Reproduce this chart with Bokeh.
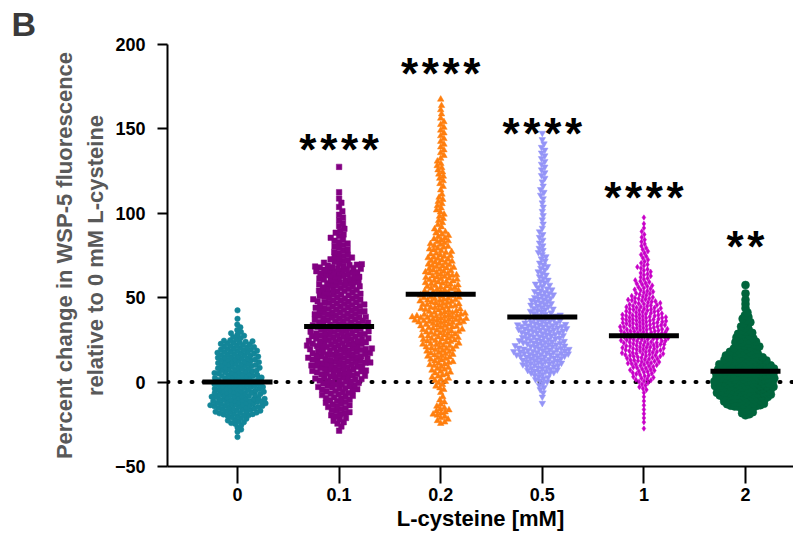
import numpy as np
from bokeh.plotting import figure
from bokeh.models import FixedTicker, Span, Label, ColumnDataSource, Title
from bokeh.embed import file_html
from bokeh.resources import INLINE

# ---------------- data ----------------
groups = ["0", "0.1", "0.2", "0.5", "1", "2"]
bin_width = 5  # % units per histogram bin
# lower edge of the first bin for each group
bin_start = [-35, -30, -25, -15, -30, -20]
# number of cells per 5-unit bin, from the lowest bin upward
counts_0 = [1, 4, 10, 22, 28, 25, 25, 23, 21, 21, 20, 16, 7, 3, 1, 1]
counts_01 = [2, 6, 8, 10, 12, 15, 18, 20, 23, 23, 23, 22, 20, 20, 19, 18,
             16, 16, 16, 18, 10, 6, 6, 5, 3, 3, 2, 2, 1, 0, 0, 1]
counts_02 = [6, 8, 4, 2, 5, 8, 9, 11, 13, 16, 17, 18, 26, 18, 18, 16, 15,
             15, 13, 12, 10, 9, 7, 4, 4, 4, 4, 2, 3, 4, 4, 3, 3, 3, 3, 3, 2, 2, 1]
counts_05 = [1, 2, 4, 8, 16, 20, 26, 22, 20, 24, 16, 11, 11, 10, 7, 5, 5, 4,
             4, 3, 3, 2, 2, 2, 2, 3, 2, 3, 3, 3, 3, 2, 1]
counts_1 = [1, 2, 2, 2, 2, 6, 12, 15, 20, 24, 26, 28, 28, 28, 22, 18, 12, 10,
            8, 7, 5, 5, 4, 3, 2, 1]
counts_2 = [8, 22, 28, 32, 32, 32, 24, 16, 12, 9, 6, 5, 2, 2, 1, 1]
all_counts = [counts_0, counts_01, counts_02, counts_05, counts_1, counts_2]

medians = [0, 33, 52, 38.5, 27.5, 6.5]
sig_labels = ["", "****", "****", "****", "****", "**"]
sig_y = [0, 141, 186, 150, 112.6, 83]   # centre of the asterisks

y_ticks = [-50, 0, 50, 100, 150, 200]

# ---------------- styles ----------------
colors = ["#138699", "#820082", "#FF7F0F", "#9494F7", "#C800C8", "#00643C"]
markers = ["circle", "square", "triangle", "inverted_triangle", "diamond", "circle"]
msizes = [5.5, 5.5, 6.5, 6.5, 5.5, 8]
coll_d = [4.2, 4.8, 4.3, 4.3, 3.8, 4.0]
FONT = "Liberation Sans"

W, H = 793, 536
frame_left, frame_top, frame_bottom = 167, 44, 466
x0_px = 237          # pixel of category "0"
x_step = 101.6       # pixels between categories
x_start = -(x0_px - frame_left) / x_step
x_end = (W - x0_px) / x_step
y_start, y_end = -50, 200
px_per_x = x_step
px_per_y = (frame_bottom - frame_top) / (y_end - y_start)


def swarm(ys_px, d):
    px, py, out = [], [], []
    for y in ys_px:
        ax = np.array(px)
        ay = np.array(py)
        if ax.size:
            m = np.abs(ay - y) < d
            nx, ny = ax[m], ay[m]
        else:
            nx = ny = np.array([])
        x = 0.0
        if nx.size:
            dx = np.sqrt(d * d - (ny - y) ** 2)
            cands = np.concatenate([[0.0], nx + dx, nx - dx])
            for c in cands[np.argsort(np.abs(cands), kind="stable")]:
                if np.all((nx - c) ** 2 + (ny - y) ** 2 >= d * d - 1e-6):
                    x = c
                    break
        px.append(x)
        py.append(y)
        out.append(x)
    return np.array(out)


p = figure(width=W, height=H, x_range=(x_start, x_end), y_range=(y_start, y_end),
           output_backend="svg", toolbar_location=None,
           min_border_left=frame_left, min_border_right=0,
           min_border_top=frame_top, min_border_bottom=H - frame_bottom)
p.outline_line_color = None
p.grid.visible = False
p.background_fill_color = "white"

zero = Span(location=0, dimension="width", line_color="black", line_width=4,
            line_dash="1 11", line_cap="round", level="underlay")
p.add_layout(zero)

for gi, counts in enumerate(all_counts):
    ys = []
    for b, n in enumerate(counts):
        lo = bin_start[gi] + b * bin_width
        for i in range(n):
            ys.append(lo + (i + 0.5) * bin_width / n)
    ys = np.sort(np.array(ys))
    xs_px = swarm(ys * px_per_y, coll_d[gi])
    src = ColumnDataSource(dict(x=gi + xs_px / px_per_x, y=ys))
    p.scatter("x", "y", source=src, marker=markers[gi], size=msizes[gi],
              fill_color=colors[gi], line_color=colors[gi], line_width=0.5)

# medians
half = 35 / px_per_x
p.segment(x0=[i - half for i in range(6)], x1=[i + half for i in range(6)],
          y0=medians, y1=medians, line_color="black", line_width=5)

# significance asterisks
SF = 44
for gi, s in enumerate(sig_labels):
    if not s:
        continue
    txt = "\u200a".join(list(s))
    p.add_layout(Label(x=gi, y=sig_y[gi] - 5 / px_per_y, text=txt,
                       text_align="center", text_baseline="alphabetic",
                       text_font=FONT, text_font_size=f"{SF}px",
                       text_font_style="bold", text_color="black"))

# panel letter
p.add_layout(Title(text="B", align="left", offset=-(frame_left - 11), standoff=3,
                   text_font=FONT, text_font_size="34px", text_font_style="bold",
                   text_color="#3a3a3a"), "above")

# axes
xa = p.xaxis[0]
xa.ticker = FixedTicker(ticks=list(range(6)))
xa.major_label_overrides = {i: g for i, g in enumerate(groups)}
xa.minor_tick_line_color = None
xa.major_tick_in = 0
xa.major_tick_out = 17
xa.major_tick_line_width = 2
xa.axis_line_width = 2
xa.major_label_standoff = 4
xa.major_label_text_font = FONT
xa.major_label_text_font_size = "18px"
xa.major_label_text_font_style = "bold"
xa.major_label_text_color = "black"
xa.axis_label = "L-cysteine [mM]"
xa.axis_label_text_font = FONT
xa.axis_label_text_font_size = "22px"
xa.axis_label_text_font_style = "bold"
xa.axis_label_text_color = "black"
xa.axis_label_standoff = 2

ya = p.yaxis[0]
ya.ticker = FixedTicker(ticks=y_ticks)
ya.minor_tick_line_color = None
ya.major_tick_in = 0
ya.major_tick_out = 10
ya.major_tick_line_width = 2
ya.axis_line_width = 2
ya.major_label_standoff = 12
ya.major_label_text_font = FONT
ya.major_label_text_font_size = "18px"
ya.major_label_text_font_style = "bold"
ya.major_label_text_color = "black"

# y-axis title: two lines
ytitle2 = Title(text="relative to 0 mM L-cysteine", align="center", offset=23,
                standoff=8, text_font=FONT, text_font_size="22px",
                text_font_style="bold", text_color="#595959")
ytitle1 = Title(text="Percent change in WSP-5 fluorescence", align="center",
                offset=-2, standoff=0, text_font=FONT, text_font_size="22px",
                text_font_style="bold", text_color="#595959")
p.add_layout(ytitle2, "left")
p.add_layout(ytitle1, "left")

open("out.html", "w").write(file_html(p, INLINE))
